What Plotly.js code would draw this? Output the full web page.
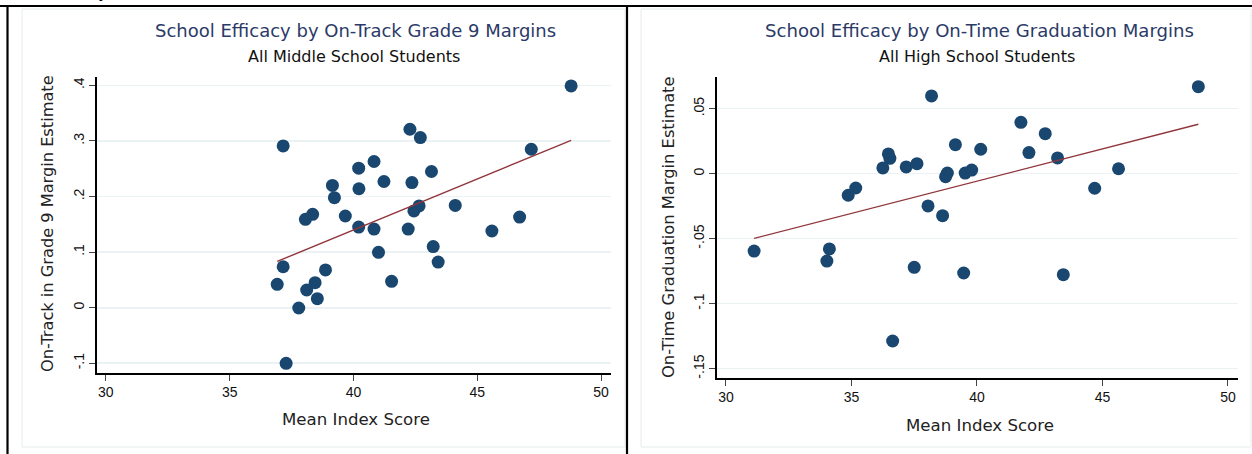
<!DOCTYPE html>
<html>
<head>
<meta charset="utf-8">
<script src="https://cdn.plot.ly/plotly-3.0.1.min.js"></script>
<style>
  html, body { margin: 0; padding: 0; background: #ffffff; }
  #chart { width: 1252px; height: 454px; }
</style>
</head>
<body>
<div id="chart"></div>
<script>
// Middle school: mean index score vs. on-track in grade 9 margin estimate
const msIndex = [48.79, 37.16, 42.28, 42.70, 47.18, 40.83, 40.21, 43.15, 41.23, 39.15,
                 40.22, 42.36, 39.23, 44.11, 42.65, 42.44, 38.35, 38.06, 39.67, 46.71,
                 40.21, 40.83, 42.21, 45.59, 41.01, 43.22, 43.42, 41.54, 37.16, 36.92,
                 38.87, 38.45, 38.11, 38.54, 37.79, 37.28];
const msOnTrack = [0.399, 0.291, 0.321, 0.306, 0.285, 0.263, 0.251, 0.245, 0.227, 0.220,
                   0.214, 0.225, 0.198, 0.184, 0.183, 0.174, 0.168, 0.159, 0.165, 0.163,
                   0.145, 0.1415, 0.1415, 0.138, 0.0996, 0.110, 0.082, 0.0475, 0.0737, 0.042,
                   0.068, 0.045, 0.0318, 0.0162, -0.0005, -0.100];

// High school: mean index score vs. on-time graduation margin estimate
const hsIndex = [48.82, 38.19, 41.75, 42.72, 39.14, 40.15, 42.07, 36.47, 36.53, 43.21,
                 37.61, 37.18, 36.25, 45.64, 39.79, 39.53, 38.82, 38.75, 35.17, 44.69,
                 34.87, 38.05, 38.63, 34.12, 31.12, 34.02, 37.50, 39.47, 43.44, 36.64];
const hsOnTime = [0.0669, 0.0598, 0.0395, 0.0308, 0.0223, 0.0188, 0.0162, 0.0152, 0.0118, 0.0121,
                  0.0077, 0.0052, 0.0044, 0.0038, 0.0028, 0.0005, 0.0005, -0.0023, -0.0110, -0.0112,
                  -0.0166, -0.0248, -0.0323, -0.0579, -0.0595, -0.0672, -0.0720, -0.0764, -0.0777, -0.1287];

// Tick values and labels
const xTicks = [30, 35, 40, 45, 50];
const msYTicks = [-0.1, 0, 0.1, 0.2, 0.3, 0.4];
const msYLabels = ["-.1", "0", ".1", ".2", ".3", ".4"];
const hsYTicks = [-0.15, -0.1, -0.05, 0, 0.05];
const hsYLabels = ["-.15", "-.1", "-.05", "0", ".05"];

// Text
const msTitle = "School Efficacy by On-Track Grade 9 Margins";
const msSubtitle = "All Middle School Students";
const msYTitle = "On-Track in Grade 9 Margin Estimate";
const hsTitle = "School Efficacy by On-Time Graduation Margins";
const hsSubtitle = "All High School Students";
const hsYTitle = "On-Time Graduation Margin Estimate";
const xTitle = "Mean Index Score";

// Ordinary least squares line over the observed x span
function linearFit(xs, ys) {
  const n = xs.length;
  const mx = xs.reduce((a, b) => a + b, 0) / n;
  const my = ys.reduce((a, b) => a + b, 0) / n;
  let sxy = 0, sxx = 0;
  for (let i = 0; i < n; i++) {
    sxy += (xs[i] - mx) * (ys[i] - my);
    sxx += (xs[i] - mx) * (xs[i] - mx);
  }
  const b = sxy / sxx;
  const a = my - b * mx;
  const x0 = Math.min(...xs), x1 = Math.max(...xs);
  return { x: [x0, x1], y: [a + b * x0, a + b * x1] };
}

const W = 1252, H = 454;
const fx = p => p / W;
const fy = p => 1 - p / H;

const NAVY = "#1a476f";
const MAROON = "#90353b";
const GRID = "#eaf2f3";
const TITLE_BLUE = "#2b3a67";
const FONT = "DejaVu Sans, sans-serif";
const TICKFONT = { family: "Liberation Sans, Arial, sans-serif", size: 14, color: "#111" };

const msFit = linearFit(msIndex, msOnTrack);
const hsFit = linearFit(hsIndex, hsOnTime);

const marker = { color: NAVY, size: 13, line: { width: 0 } };

const traces = [
  { x: msIndex, y: msOnTrack, type: "scatter", mode: "markers", marker: marker,
    xaxis: "x", yaxis: "y", hoverinfo: "x+y" },
  { x: msFit.x, y: msFit.y, type: "scatter", mode: "lines",
    line: { color: MAROON, width: 1.4 }, xaxis: "x", yaxis: "y", hoverinfo: "skip" },
  { x: hsIndex, y: hsOnTime, type: "scatter", mode: "markers", marker: marker,
    xaxis: "x2", yaxis: "y2", hoverinfo: "x+y" },
  { x: hsFit.x, y: hsFit.y, type: "scatter", mode: "lines",
    line: { color: MAROON, width: 1.4 }, xaxis: "x2", yaxis: "y2", hoverinfo: "skip" }
];

function xAxis(domain, anchor) {
  return {
    domain: domain, anchor: anchor, range: [29.63, 50.4],
    tickmode: "array", tickvals: xTicks, ticktext: xTicks.map(String),
    ticks: "outside", ticklen: 6, tickwidth: 1, tickcolor: "#444",
    showline: true, linecolor: "#000", linewidth: 1.3,
    showgrid: false, zeroline: false, tickfont: TICKFONT, fixedrange: true
  };
}
function yAxis(domain, anchor, range, vals, labels) {
  return {
    domain: domain, anchor: anchor, range: range,
    tickmode: "array", tickvals: vals, ticktext: labels, tickangle: -90,
    ticks: "outside", ticklen: 6, tickwidth: 1, tickcolor: "#444",
    showline: true, linecolor: "#000", linewidth: 1.3,
    showgrid: true, gridcolor: GRID, gridwidth: 1.6,
    zeroline: false, tickfont: TICKFONT, fixedrange: true
  };
}

function label(text, x, y, size, color, angle) {
  return { text: text, xref: "paper", yref: "paper", x: fx(x), y: fy(y),
           xanchor: "center", yanchor: "middle", showarrow: false,
           textangle: angle || 0, font: { family: FONT, size: size, color: color } };
}

const annotations = [
  label(msTitle, 356, 31, 18, TITLE_BLUE),
  label(msSubtitle, 354, 57, 16, "#111"),
  label(xTitle, 356, 419, 16.6, "#222"),
  label(msYTitle, 47, 224, 16.2, "#222", -90),
  label(hsTitle, 980, 31, 18.1, TITLE_BLUE),
  label(hsSubtitle, 977, 57, 16, "#111"),
  label(xTitle, 980, 425, 16.6, "#222"),
  label(hsYTitle, 668, 227, 16.3, "#222", -90),
  // descender of a line of text running off the top edge
  { text: "y", xref: "paper", yref: "paper", x: fx(103), y: fy(3), xanchor: "center",
    yanchor: "bottom", showarrow: false,
    font: { family: "Liberation Serif, serif", size: 18, color: "#000" } }
];

const shapes = [
  // light outlines of each graph region
  { type: "rect", xref: "paper", yref: "paper", x0: fx(22), x1: fx(625), y0: fy(447), y1: fy(9),
    line: { color: "#e4ecee", width: 1 }, layer: "below" },
  { type: "rect", xref: "paper", yref: "paper", x0: fx(641), x1: fx(1251), y0: fy(447), y1: fy(9),
    line: { color: "#e4ecee", width: 1 }, layer: "below" },
  // table frame
  { type: "line", xref: "paper", yref: "paper", x0: 0, x1: 1, y0: fy(6), y1: fy(6),
    line: { color: "#000", width: 2.2 } },
  { type: "line", xref: "paper", yref: "paper", x0: fx(7.5), x1: fx(7.5), y0: 0, y1: fy(6),
    line: { color: "#000", width: 2.2 } },
  { type: "line", xref: "paper", yref: "paper", x0: fx(627), x1: fx(627), y0: 0, y1: fy(6),
    line: { color: "#000", width: 2.2 } }
];

const layout = {
  width: W, height: H,
  margin: { l: 0, r: 0, t: 0, b: 0, pad: 0 },
  paper_bgcolor: "#ffffff", plot_bgcolor: "#ffffff",
  showlegend: false,
  xaxis: xAxis([fx(96.7), fx(611)], "y"),
  yaxis: yAxis([fy(373.3), fy(77)], "x", [-0.118, 0.415], msYTicks, msYLabels),
  xaxis2: xAxis([fx(716.7), fx(1238)], "y2"),
  yaxis2: yAxis([fy(378.3), fy(76.7)], "x2", [-0.1574, 0.0746], hsYTicks, hsYLabels),
  annotations: annotations,
  shapes: shapes,
  font: { family: FONT }
};

Plotly.newPlot("chart", traces, layout, { displayModeBar: false, staticPlot: true });
</script>
</body>
</html>
